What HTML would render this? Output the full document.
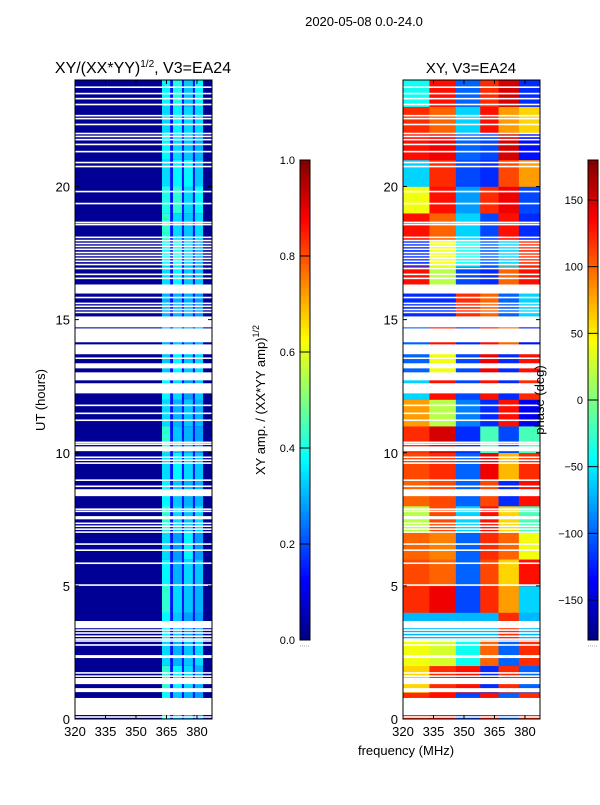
<!DOCTYPE html>
<html><head><meta charset="utf-8"><style>
body{margin:0;background:#fff;width:600px;height:800px;overflow:hidden}
svg text{font-family:"Liberation Sans",sans-serif;fill:#000}
</style></head><body>
<svg id="fig" width="600" height="800" xmlns="http://www.w3.org/2000/svg">
<text x="364" y="26" font-size="13" text-anchor="middle">2020-05-08 0.0-24.0</text>
<text x="143" y="73" font-size="16" text-anchor="middle">XY/(XX*YY)<tspan font-size="10" dy="-6">1/2</tspan><tspan dy="6">, V3=EA24</tspan></text>
<text x="471" y="73" font-size="15" text-anchor="middle">XY, V3=EA24</text>
<text transform="translate(45,400) rotate(-90)" font-size="13" text-anchor="middle">UT (hours)</text>
<text x="406" y="755" font-size="13" text-anchor="middle">frequency (MHz)</text>
<text transform="translate(265,400) rotate(-90)" font-size="13" text-anchor="middle">XY amp. / (XX*YY amp)<tspan font-size="9" dy="-6">1/2</tspan></text>
<g id="left"></g>
<g id="right"></g>
<g id="cb1"></g>
<g id="cb2"></g>
<text transform="translate(544,400) rotate(-90)" font-size="13" text-anchor="middle">phase (deg)</text>
</svg>
<script>
// ---- data ----
const hourRows = [0,1,2,3,4,5,6,7,8,9,10,11,12,13,14,15,16,17,18,19,20,21,22,23];
const ampBandEdges = [[362.8,366.8],[368.2,372.6],[373.6,378],[379,383]];
const ampBase = 0.02;
const ampBetween = 0.14;
const ampBand1 = [0.38,0.42,0.34,0.37,0.42,0.37,0.34,0.42,0.37,0.34,0.42,0.34,0.37,0.32,0.3,0.3,0.34,0.37,0.42,0.4,0.34,0.37,0.34,0.37];
const ampBand2 = [0.32,0.37,0.3,0.32,0.34,0.3,0.28,0.34,0.32,0.37,0.32,0.3,0.34,0.37,0.32,0.3,0.37,0.4,0.34,0.42,0.37,0.34,0.37,0.4];
const ampBand3 = [0.3,0.34,0.32,0.28,0.32,0.34,0.37,0.32,0.3,0.34,0.3,0.32,0.28,0.32,0.28,0.3,0.32,0.34,0.32,0.34,0.37,0.32,0.34,0.32];
const ampBand4 = [0.28,0.3,0.34,0.28,0.3,0.32,0.28,0.34,0.3,0.32,0.28,0.3,0.32,0.34,0.3,0.28,0.32,0.3,0.34,0.37,0.32,0.3,0.34,0.37];
const phaseZones = [[320,333],[333,346],[346,358],[358,367],[367,377],[377,387.4]];
const phaseRows = [
 [120,130,-110,130,-100,120],[60,120,130,-120,120,-100],[40,30,-40,100,-100,120],
 [-70,-70,-70,-70,120,-70],[120,140,-110,120,80,-60],[110,100,-100,110,60,130],
 [100,90,-100,120,100,40],[20,110,-60,130,60,-20],[100,110,-100,110,-120,130],
 [110,120,-100,140,70,120],[120,150,-120,-20,-110,-20],[80,20,-90,-120,130,-140],
 [-60,130,-110,130,-120,120],[-100,40,-110,140,-120,130],[-100,130,-120,130,100,-130],
 [-120,-120,120,100,-100,-60],[130,20,-110,-120,100,130],[-120,40,-40,-100,-60,120],
 [130,100,-60,-110,130,-120],[40,130,-80,120,140,-110],[-60,120,-110,-120,110,80],
 [130,140,-100,-110,150,-130],[120,100,-60,130,80,60],[-40,130,-100,120,150,-120]];
const gapLines = [23.73,23.49,23.30,23.08,22.66,22.55,22.33,21.99,21.88,21.76,21.58,21.31,20.90,20.75,19.81,19.36,18.65,18.57,18.09,17.97,17.86,17.75,17.64,17.52,17.41,17.30,17.19,17.07,16.92,16.70,16.55,15.83,15.61,15.50,15.38,15.27,13.55,11.78,11.48,11.22,10.39,10.32,9.83,9.72,9.61,8.97,8.74,7.88,7.80,7.35,7.24,7.13,7.02,6.57,6.34,5.85,5.03,3.34,3.23,3.11,3.00,2.93,2.78,1.73,1.61,0.075];
const gapBlocks = [[15.98,16.32],[14.71,15.12],[14.15,14.67],[13.70,14.07],[13.17,13.36],[12.72,13.02],[12.23,12.61],[10.06,10.24],[8.37,8.63],[7.50,7.62],[3.41,3.68],[2.29,2.40],[1.31,1.54],[1.01,1.16],[0.15,0.79]];
const xTicks = [320,335,350,365,380];
const yTicks = [0,5,10,15,20];
const ampTicks = [0.0,0.2,0.4,0.6,0.8,1.0];
const phaseTicks = [-150,-100,-50,0,50,100,150];

// ---- helpers ----
const NS='http://www.w3.org/2000/svg';
function jet(v){v=Math.max(0,Math.min(1,v));const c=x=>Math.round(255*Math.max(0,Math.min(1,1.5-Math.abs(x))));return `rgb(${c(4*v-3)},${c(4*v-2)},${c(4*v-1)})`;}
function mk(tag,attrs,parent){const e=document.createElementNS(NS,tag);for(const k in attrs)e.setAttribute(k,attrs[k]);parent.appendChild(e);return e;}
const fMin=320,fMax=387.4,hMin=0,hMax=24,plotTop=80,plotBot=719;
const yS=h=>plotBot-(h-hMin)/(hMax-hMin)*(plotBot-plotTop);
function panel(x0){
  const x1=x0+137;
  const xS=f=>x0+(f-fMin)/(fMax-fMin)*(x1-x0);
  return {xS,x0,x1};
}
function decorate(g,p){
  gapLines.forEach(h=>{const r=mk('rect',{x:p.x0,y:yS(h)-0.8,width:p.x1-p.x0,height:1.6,fill:'#fff'},g);
    
    });
  gapBlocks.forEach(b=>{const r=mk('rect',{x:p.x0,y:yS(b[1]),width:p.x1-p.x0,height:yS(b[0])-yS(b[1]),fill:'#fff'},g);
    
    });
  const fr=mk('rect',{x:p.x0,y:plotTop,width:p.x1-p.x0,height:plotBot-plotTop,fill:'none',stroke:'#000','stroke-width':1},g);
  
  
  xTicks.forEach(t=>{const x=p.xS(t);
    mk('line',{x1:x,x2:x,y1:plotBot,y2:plotBot-4,stroke:'#000'},g);mk('line',{x1:x,x2:x,y1:plotTop,y2:plotTop+4,stroke:'#000'},g);
    const tx=mk('text',{x:x,y:plotBot+17,'font-size':13,'text-anchor':'middle'},g);tx.textContent=t;
    
    });
  yTicks.forEach(t=>{const y=yS(t);
    mk('line',{x1:p.x0,x2:p.x0+4,y1:y,y2:y,stroke:'#000'},g);mk('line',{x1:p.x1,x2:p.x1-4,y1:y,y2:y,stroke:'#000'},g);
    const tx=mk('text',{x:p.x0-5,y:y+5,'font-size':13,'text-anchor':'end'},g);tx.textContent=t;
    
    });
}
// amplitude panel
const L=document.getElementById('left');const pL=panel(75);
mk('rect',{x:pL.x0,y:plotTop,width:137,height:plotBot-plotTop,fill:jet(ampBase)},L);
mk('rect',{x:pL.xS(ampBandEdges[0][0]),y:plotTop,width:pL.xS(ampBandEdges[3][1])-pL.xS(ampBandEdges[0][0]),height:plotBot-plotTop,fill:jet(ampBetween)},L);
const bands=[ampBand1,ampBand2,ampBand3,ampBand4];
hourRows.forEach((h,i)=>{
  bands.forEach((arr,b)=>{const e=ampBandEdges[b];
    const r=mk('rect',{x:pL.xS(e[0]),y:yS(h+1),width:pL.xS(e[1])-pL.xS(e[0]),height:yS(h)-yS(h+1),fill:jet(arr[i])},L);
    
    });
});
decorate(L,pL);
// phase panel
const R=document.getElementById('right');const pR=panel(403);
hourRows.forEach((h,i)=>{
  phaseZones.forEach((z,j)=>{
    const r=mk('rect',{x:pR.xS(z[0]),y:yS(h+1),width:pR.xS(z[1])-pR.xS(z[0])+0.3,height:yS(h)-yS(h+1)+0.3,fill:jet((phaseRows[i][j]+180)/360)},R);
    
    });
});
decorate(R,pR);
// colorbars
function colorbar(g,x,lo,hi,ticks,fmt){
  const y0=160,y1=640;
  for(let k=0;k<120;k++){mk('rect',{x:x,y:y1-(k+1)*4,width:10,height:4.3,fill:jet((k+0.5)/120)},g);}
  const b=mk('rect',{x:x,y:y0,width:10,height:y1-y0,fill:'none',stroke:'#000'},g);
  
  
  ticks.forEach(t=>{const y=y1-(t-lo)/(hi-lo)*(y1-y0);
    mk('line',{x1:x,x2:x+10,y1:y,y2:y,stroke:'#000'},g);
    const tx=mk('text',{x:x-5,y:y+4,'font-size':11,'text-anchor':'end'},g);tx.textContent=fmt(t);
    
    });
  mk('line',{x1:x,x2:x+10,y1:646,y2:646,stroke:'#aaa','stroke-dasharray':'1,1'},g);
}
colorbar(document.getElementById('cb1'),300,0,1,ampTicks,t=>t.toFixed(1));
colorbar(document.getElementById('cb2'),588,-180,180,phaseTicks,t=>t<0?'\u2212'+(-t):String(t));
</script>
</body></html>
